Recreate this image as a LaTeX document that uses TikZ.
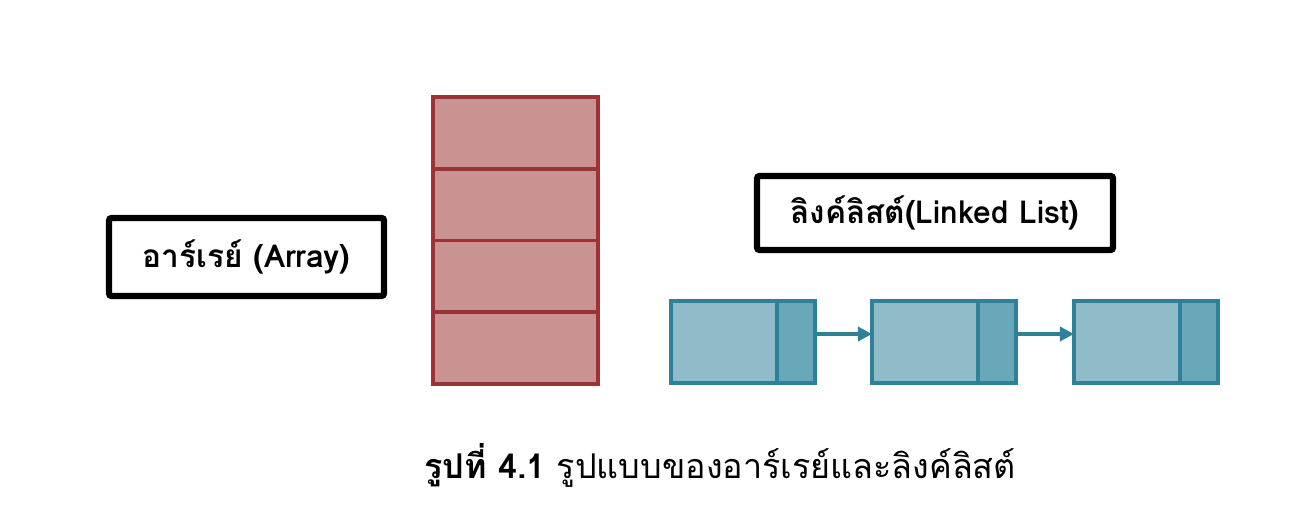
\documentclass[tikz,border=0pt]{standalone}
\usepackage{fontspec}
\newfontfamily\thaifont[Script=Thai]{Loma}
\usetikzlibrary{arrows.meta,positioning}
\definecolor{arrfill}{HTML}{C89391}
\definecolor{arrline}{HTML}{9E3236}
\definecolor{datafill}{HTML}{90BBC8}
\definecolor{ptrfill}{HTML}{68A8B9}
\definecolor{listline}{HTML}{2F8199}
\tikzset{
  cell/.style={draw=arrline, fill=arrfill, line width=2.2pt, minimum width=3.3cm, minimum height=1.435cm, inner sep=0pt, outer sep=0pt},
  datapart/.style={draw=listline, fill=datafill, line width=1.8pt, minimum width=2.12cm, minimum height=1.64cm, inner sep=0pt, outer sep=0pt},
  ptrpart/.style={draw=listline, fill=ptrfill, line width=1.8pt, minimum width=0.76cm, minimum height=1.64cm, inner sep=0pt, outer sep=0pt},
  labelbox/.style={draw=black, line width=3.6pt, rounded corners=1.5pt, inner sep=0pt, font=\thaifont\bfseries\fontsize{18}{22}\selectfont},
  link/.style={draw=listline, line width=1.9pt, -{Triangle[length=8pt,width=8pt]}}
}
\begin{document}
\begin{tikzpicture}
		%%%%% START %%%%%
		\useasboundingbox (0, 0) rectangle (26.28, -10.4);
		
		% array
		\node[cell] (c1) at (10.31, -2.658) {};
		\node[cell, below=0pt of c1] (c2) {};
		\node[cell, below=0pt of c2] (c3) {};
		\node[cell, below=0pt of c3] (c4) {};
		
		\node[labelbox, minimum width=5.5cm, minimum height=1.56cm] (arrlabel) at (4.93, -5.14) {อาร์เรย์ (Array)};
		
		% linked list
		\node[datapart] (d1) at (14.48, -6.84) {};
		\node[ptrpart, right=0pt of d1] (p1) {};
		\node[datapart] (d2) at (18.5, -6.84) {};
		\node[ptrpart, right=0pt of d2] (p2) {};
		\node[datapart] (d3) at (22.54, -6.84) {};
		\node[ptrpart, right=0pt of d3] (p3) {};
		
		\draw[link] ([yshift=0.16cm]p1.east) -- ([yshift=0.16cm]d2.west);
		\draw[link] ([yshift=0.16cm]p2.east) -- ([yshift=0.16cm]d3.west);
		
		\node[labelbox, minimum width=7.12cm, minimum height=1.48cm] (listlabel) at (18.7, -4.26) {ลิงค์ลิสต์(Linked List)};
		
		% caption
		\node[font=\thaifont\fontsize{19.4}{23}\selectfont] (caption) at (14.4, -9.3) {\textbf{รูปที่ 4.1} รูปแบบของอาร์เรย์และลิงค์ลิสต์};
		%%%%% END %%%%%
\end{tikzpicture}
\end{document}
